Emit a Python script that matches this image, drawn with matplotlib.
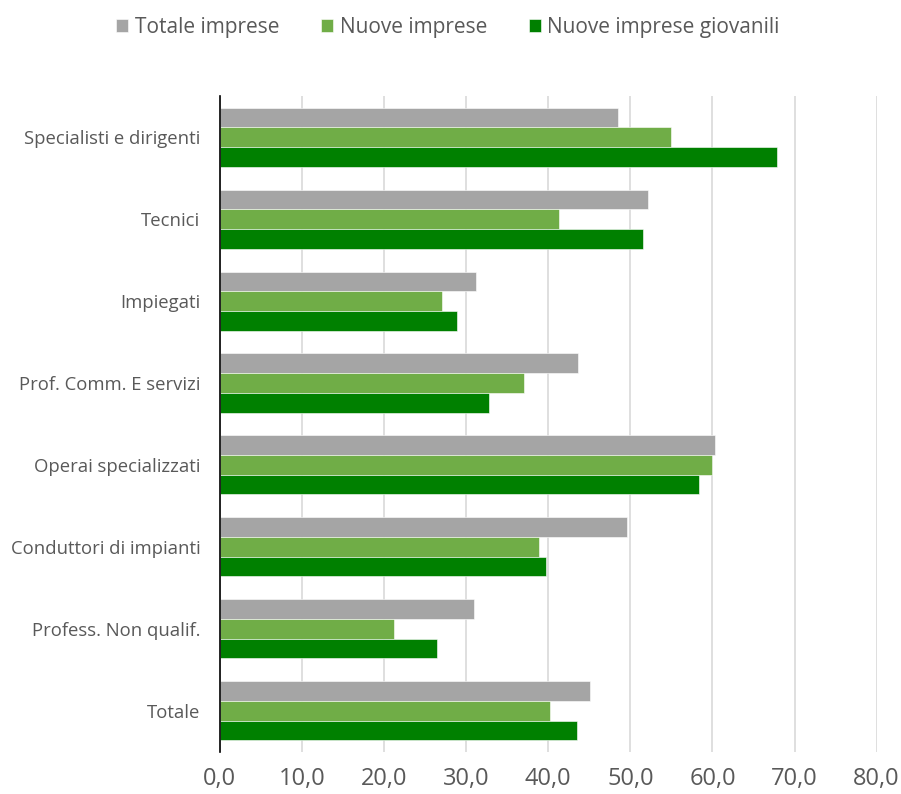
import numpy as np
import matplotlib.pyplot as plt
from matplotlib.ticker import FuncFormatter

categories = ['Specialisti e dirigenti', 'Tecnici', 'Impiegati', 'Prof. Comm. E servizi',
              'Operai specializzati', 'Conduttori di impianti', 'Profess. Non qualif.', 'Totale']
totale_imprese = [48.5, 52.2, 31.2, 43.6, 60.3, 49.6, 30.9, 45.1]
nuove_imprese = [54.9, 41.3, 27.1, 37.0, 60.0, 38.9, 21.2, 40.2]
nuove_giovanili = [67.9, 51.5, 28.9, 32.8, 58.3, 39.7, 26.4, 43.5]

series = [
    ('Totale imprese', totale_imprese, '#A5A5A5'),
    ('Nuove imprese', nuove_imprese, '#70AD47'),
    ('Nuove imprese giovanili', nuove_giovanili, '#008000'),
]

plt.rcParams['font.family'] = ['Open Sans', 'DejaVu Sans']
text_color = '#595959'

fig = plt.figure(figsize=(9.01, 7.94), dpi=100)
ax = fig.add_axes([0.244, 0.053, 0.729, 0.826])

y = np.arange(len(categories))
h = 0.24
for i, (name, vals, color) in enumerate(series):
    ax.barh(y + (i - 1) * h, vals, height=h, color=color, label=name,
            edgecolor='white', linewidth=0.4, zorder=3)

ax.set_xlim(0, 80)
ax.set_ylim(len(categories) - 0.5, -0.5)
ax.set_xticks(np.arange(0, 81, 10))
ax.xaxis.set_major_formatter(FuncFormatter(lambda v, p: f'{v:.1f}'.replace('.', ',')))
ax.set_yticks(y)
ax.set_yticklabels(categories)

ax.grid(axis='x', color='#D9D9D9', linewidth=1.2, zorder=0)
ax.tick_params(axis='both', length=0, colors=text_color)
ax.tick_params(axis='x', labelsize=17, pad=11)
ax.tick_params(axis='y', labelsize=13.3, pad=14)

for s in ['top', 'right', 'bottom']:
    ax.spines[s].set_visible(False)
ax.spines['left'].set_color('black')
ax.spines['left'].set_linewidth(1.2)
ax.spines['left'].set_zorder(4)

leg = fig.legend(loc='upper center', bbox_to_anchor=(0.497, 1.002), ncol=3, frameon=False,
                 fontsize=15, handlelength=0.6, handleheight=0.6, handletextpad=0.3,
                 columnspacing=2.0, labelcolor=text_color)

fig.savefig('out.png', dpi=100)
